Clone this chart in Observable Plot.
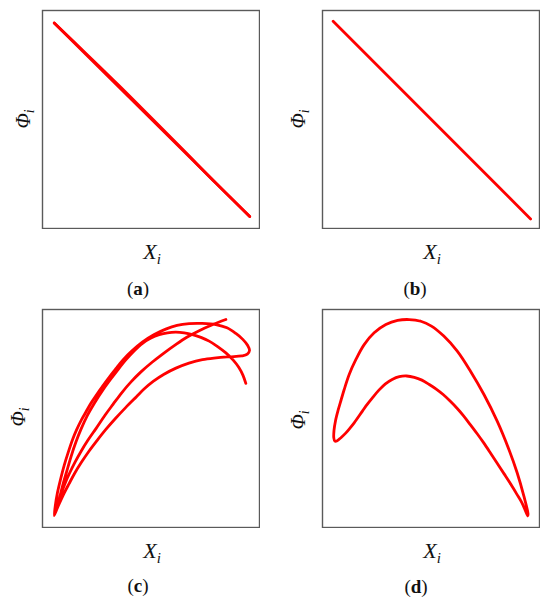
<!DOCTYPE html>
<html>
<head>
<meta charset="utf-8">
<script src="https://cdn.jsdelivr.net/npm/d3@7"></script>
<script src="https://cdn.jsdelivr.net/npm/@observablehq/plot@0.6"></script>
<style>
  html, body { margin: 0; padding: 0; background: #fff; }
  #root { position: relative; width: 550px; height: 608px; overflow: hidden; font-family: "Liberation Serif", "DejaVu Serif", serif; color: #111; }
  .panel { position: absolute; }
  .lbl { position: absolute; line-height: 1; white-space: nowrap; transform: translate(-50%, -50%); }
  .xl { font-size: 22px; font-style: italic; }
  .yl { font-size: 20px; font-style: italic; transform: translate(-50%, -50%) rotate(-90deg); }
  .cap { font-size: 19px; }
  sub { font-size: 0.68em; vertical-align: -0.3em; }
</style>
</head>
<body>
<div id="root"></div>
<script>
// Panel (a): near-straight trajectories (two slightly different strands)
const aX1 = [5.4, 95.5];
const aY1 = [94.3, 5.5];
const aX2 = [5.4, 20, 35, 50, 65, 80, 95.5];
const aY2 = [94.3, 80.3, 65.8, 50.9, 35.9, 20.7, 5.5];

// Panel (b): straight trajectory
const bX = [4.9, 95.9];
const bY = [95.1, 4.4];

// Panel (c): looping trajectory (strands: third line, outer arc + loop, lower curve, inner arc)
const cThirdX = [84.5, 78.3, 72.2, 66.5, 61.2, 55.8, 50.5, 45.5, 40.8, 36.5, 32.5, 28.8, 24.8, 20.9, 17.8, 15.0, 12.5, 10.3, 8.4, 6.8, 6.0];
const cThirdY = [95.4, 93.0, 90.3, 87.3, 83.8, 79.9, 75.8, 71.5, 66.8, 61.8, 56.5, 51.5, 45.6, 40.0, 35.0, 30.0, 25.0, 20.0, 15.0, 10.0, 7.2];
const cOuterX = [5.4, 5.9, 6.9, 8.3, 10.0, 11.7, 14.0, 15.8, 18.0, 20.0, 22.3, 25.0, 27.8, 30.8, 33.9, 37.2, 41.0, 46.0, 51.5, 56.8, 62.0, 67.6, 73.5, 79.9, 85.0, 89.1, 92.3, 94.5, 95.4, 94.4, 91.8];
const cOuterY = [5.5, 10.0, 16.0, 22.0, 28.5, 34.0, 40.7, 45.0, 49.5, 53.0, 57.0, 61.0, 65.0, 69.0, 73.0, 77.0, 80.8, 85.0, 88.5, 91.0, 92.7, 93.5, 93.6, 93.1, 91.6, 89.0, 86.3, 83.6, 81.2, 79.5, 78.7];
const cLowerX = [86.0, 80.0, 73.7, 67.5, 61.5, 56.0, 51.0, 46.8, 43.3, 38.3, 33.6, 29.2, 25.2, 21.4, 18.0, 14.9, 12.2, 9.6, 7.3, 5.4];
const cLowerY = [78.3, 77.8, 77.0, 75.4, 73.1, 70.3, 67.0, 63.5, 60.0, 55.0, 50.0, 45.0, 40.0, 35.0, 30.0, 25.0, 20.0, 15.0, 10.0, 5.5];
const cInnerX = [6.4, 7.7, 9.5, 11.5, 13.3, 15.4, 17.7, 20.7, 23.9, 28.0, 31.4, 35.0, 38.6, 42.2, 46.1, 50.0, 53.8, 57.6, 61.4, 65.3, 69.1, 73.0, 76.8, 80.7, 84.5, 87.8, 90.5, 92.4, 93.7];
const cInnerY = [9.0, 13.2, 20.0, 26.9, 33.0, 39.2, 45.0, 51.4, 57.0, 63.3, 68.0, 72.7, 77.1, 81.0, 84.5, 86.9, 88.4, 89.3, 89.6, 89.3, 88.5, 87.2, 85.5, 83.0, 80.1, 76.9, 73.4, 69.8, 66.1];

// Panel (d): closed loop (starting at the top of the outer arc)
const dX = [39.9, 45.3, 50.2, 55.9, 62.1, 68.2, 74.4, 80.5, 85.9, 89.7, 92.8, 94.7, 94.6,
            93.4, 91.8, 89.6, 86.8, 83.7, 80.5, 77.4, 74.3, 71.2, 68.1, 65.0, 61.9, 58.8, 55.6, 52.4, 49.2, 45.8, 42.3, 38.8, 35.4, 32.1, 29.0, 26.0, 23.0, 20.6, 18.4, 14.6, 12.6, 10.8, 8.5, 6.8, 5.7,
            5.2, 5.3, 6.0, 7.2, 8.6, 10.0, 12.3, 15.4, 19.2, 23.8, 29.2, 34.6];
const dY = [95.4, 94.6, 92.4, 87.8, 80.9, 71.7, 61.0, 48.8, 35.8, 25.1, 14.4, 6.4, 5.3,
            8.0, 11.5, 15.2, 19.8, 24.6, 29.5, 34.2, 38.8, 43.1, 47.2, 51.2, 54.8, 58.0, 61.0, 63.5, 65.6, 67.6, 68.9, 69.5, 69.2, 67.9, 65.9, 63.0, 59.5, 56.5, 53.4, 48.0, 45.5, 43.4, 41.2, 39.8, 39.6,
            41.2, 44.5, 49.0, 53.8, 58.6, 63.3, 70.2, 77.1, 83.9, 89.3, 93.1, 95.0];

const captions = ["a", "b", "c", "d"];

function pts(xs, ys) { return xs.map((x, i) => ({x, y: ys[i]})); }

const cPath = [].concat(pts(cThirdX, cThirdY), pts(cOuterX, cOuterY), pts(cLowerX, cLowerY), pts(cInnerX, cInnerY));

const panels = [
  {left: 42, top: 10, series: [pts(aX1, aY1), pts(aX2, aY2)], closed: false,
   xl: [152, 254], yl: [25, 119], cap: [138, 288]},
  {left: 322, top: 10, series: [pts(bX, bY)], closed: false,
   xl: [432, 254], yl: [300, 119], cap: [415, 288]},
  {left: 42, top: 309, series: [cPath], closed: false,
   xl: [152, 553], yl: [20, 417], cap: [138, 585]},
  {left: 322, top: 309, series: [pts(dX, dY)], closed: true,
   xl: [432, 553], yl: [300, 420], cap: [416, 586]}
];

const root = document.getElementById("root");

panels.forEach((p, idx) => {
  const marks = [Plot.frame({stroke: "#5a5a5a", strokeWidth: 1.4})];
  p.series.forEach(s => {
    marks.push(Plot.line(s, {x: "x", y: "y", stroke: "#ff0000", strokeWidth: 2.8,
      curve: p.closed ? "catmull-rom-closed" : "catmull-rom", strokeLinecap: "round", strokeLinejoin: "round"}));
  });
  const svg = Plot.plot({
    width: 219, height: 220,
    marginTop: 1, marginBottom: 1, marginLeft: 1, marginRight: 1,
    x: {domain: [0, 100], axis: null},
    y: {domain: [0, 100], axis: null},
    marks
  });
  const wrap = document.createElement("div");
  wrap.className = "panel";
  wrap.style.left = (p.left - 1) + "px";
  wrap.style.top = (p.top - 1) + "px";
  wrap.appendChild(svg);
  root.appendChild(wrap);

  const xl = document.createElement("div");
  xl.className = "lbl xl";
  xl.innerHTML = "X<sub>i</sub>";
  xl.style.left = p.xl[0] + "px"; xl.style.top = p.xl[1] + "px";
  root.appendChild(xl);

  const yl = document.createElement("div");
  yl.className = "lbl yl";
  yl.innerHTML = "Φ<sub>i</sub>";
  yl.style.left = p.yl[0] + "px"; yl.style.top = p.yl[1] + "px";
  root.appendChild(yl);

  const cap = document.createElement("div");
  cap.className = "lbl cap";
  cap.innerHTML = "(<b>" + captions[idx] + "</b>)";
  cap.style.left = p.cap[0] + "px"; cap.style.top = p.cap[1] + "px";
  root.appendChild(cap);
});
</script>
</body>
</html>
